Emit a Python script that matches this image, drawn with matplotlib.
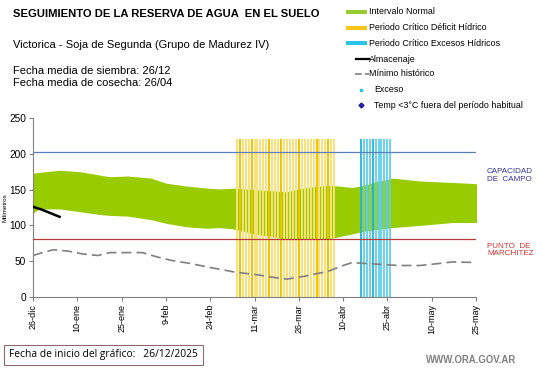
import matplotlib
matplotlib.use("Agg")
import matplotlib.pyplot as plt
from matplotlib.patches import Rectangle

plt.rcParams['font.family'] = ['Liberation Sans', 'DejaVu Sans']

# dias desde 26-dic
tick_days = [0, 15, 30, 45, 60, 75, 90, 105, 120, 135, 150]
tick_labels = ["26-dic", "10-ene", "25-ene", "9-feb", "24-feb", "11-mar",
               "26-mar", "10-abr", "25-abr", "10-may", "25-may"]

# intervalo normal (banda verde)
band_days = [0, 2, 9, 16, 23, 26, 32, 40, 45, 52, 59, 63, 68, 75, 82, 86, 90,
             95, 101, 108, 111, 116, 122, 131, 142, 151]
band_top = [173, 174, 177, 175, 170, 168, 169, 166, 159, 155, 152, 151, 152,
            150, 148, 147, 151, 154, 156, 153, 155, 161, 166, 162, 160, 158]
band_low = [117, 123, 123, 119, 115, 114, 113, 108, 103, 98, 96, 97, 95, 88,
            84, 80, 80, 81, 82, 88, 91, 94, 97, 100, 104, 104]

# minimo historico
min_days = [0, 4, 7, 12, 17, 22, 26, 32, 37, 42, 47, 53, 59, 68, 76, 82, 86,
            92, 100, 105, 108, 116, 124, 131, 138, 142, 151]
min_vals = [58, 63, 66, 64, 60, 58, 62, 62, 62, 56, 51, 47, 42, 35, 31, 27,
            25, 29, 36, 44, 48, 46, 44, 44, 47, 49, 48]

# almacenaje
alm_days = [0, 3, 6, 9]
alm_vals = [126, 122, 117, 112]

capacidad_campo = 203
punto_marchitez = 81
bar_top = 221

deficit_days = list(range(69, 103))
deficit_dark = [70, 74, 80, 84, 90, 96, 100]
exceso_days = list(range(111, 122))
exceso_dark = [111, 115]

fig = plt.figure(figsize=(5.41, 3.68), dpi=100)
ax = fig.add_axes([33 / 541, 1 - 297 / 368, 443 / 541, 179 / 368])

ax.fill_between(band_days, band_low, band_top, color="#99cc00", lw=0, zorder=1)

for d in deficit_days:
    c = "#f0c400" if d in deficit_dark else "#f8e27a"
    ax.vlines(d, 0, bar_top, color=c, lw=1.4, zorder=2)
for d in exceso_days:
    c = "#1fb5d6" if d in exceso_dark else "#5fd0ea"
    ax.vlines(d, 0, bar_top, color=c, lw=1.3, zorder=2)

ax.axhline(capacidad_campo, color="#5b7fbd", lw=0.9, zorder=3)
ax.axhline(punto_marchitez, color="#b83a3a", lw=0.9, zorder=3)

ax.plot(min_days, min_vals, color="#808080", lw=1.2, dashes=(6, 3), zorder=4)
ax.plot(alm_days, alm_vals, color="black", lw=1.8, zorder=5)

ax.set_xlim(0, 150)
ax.set_ylim(0, 250)
ax.set_xticks(tick_days)
ax.set_xticklabels(tick_labels, rotation=90, fontsize=6.5)
ax.set_yticks([0, 50, 100, 150, 200, 250])
ax.tick_params(axis='y', labelsize=7.3, length=3, color="#808080", pad=2)
ax.tick_params(axis='x', length=3, color="#808080", pad=2)
for s in ["top", "right"]:
    ax.spines[s].set_visible(False)
for s in ["left", "bottom"]:
    ax.spines[s].set_color("#808080")
ax.set_ylabel("Milímetros", fontsize=4.5)
ax.yaxis.set_label_coords(-0.058, 0.5)

ax.text(1.025, 0.68, "CAPACIDAD\nDE  CAMPO", transform=ax.transAxes,
        fontsize=5.8, color="#333399", va="center", linespacing=1.1)
ax.text(1.025, 0.263, "PUNTO  DE\nMARCHITEZ", transform=ax.transAxes,
        fontsize=5.8, color="#cc3333", va="center", linespacing=1.1)

# textos de cabecera
fig.text(13 / 541, 1 - 14 / 368, "SEGUIMIENTO DE LA RESERVA DE AGUA  EN EL SUELO",
         fontsize=8.1, fontweight="bold", va="center")
fig.text(13 / 541, 1 - 45 / 368, "Victorica - Soja de Segunda (Grupo de Madurez IV)",
         fontsize=8.0, va="center")
fig.text(13 / 541, 1 - 71 / 368, "Fecha media de siembra: 26/12",
         fontsize=8.0, va="center")
fig.text(13 / 541, 1 - 83 / 368, "Fecha media de cosecha: 26/04",
         fontsize=8.0, va="center")

# leyenda
lg = fig.add_axes([0, 0, 1, 1], zorder=-1)
lg.set_xlim(0, 541)
lg.set_ylim(368, 0)
lg.axis("off")
legend_rows = [
    ("Intervalo Normal", "patch", "#99cc33", 12),
    ("Periodo Crítico Déficit Hídrico", "patch", "#f5c518", 28),
    ("Periodo Crítico Excesos Hídricos", "patch", "#29c4ea", 43),
    ("Almacenaje", "line", "black", 59),
    ("Mínimo histórico", "dash", "#808080", 74),
    ("Exceso", "square", "#29c4ea", 90),
    ("Temp <3°C fuera del período habitual", "diamond", "#1f1fa0", 105),
]
for label, kind, col, y in legend_rows:
    tx = 369
    if kind == "patch":
        lg.add_patch(Rectangle((346, y - 1.8), 21, 3.6, color=col, lw=0))
    elif kind == "line":
        lg.plot([356, 369], [y, y], color=col, lw=1.6)
    elif kind == "dash":
        lg.plot([355, 369], [y, y], color=col, lw=1.2, dashes=(4, 2))
    elif kind == "square":
        lg.plot([361], [y], marker="s", ms=2, color=col, lw=0)
        tx = 374
    elif kind == "diamond":
        lg.plot([361], [y], marker="D", ms=2.5, color=col, lw=0)
        tx = 374
    lg.text(tx, y, label, fontsize=6.4, va="center", ha="left")

# pie
fig.text(9 / 541, 1 - 355 / 368, "Fecha de inicio del gráfico:   26/12/2025",
         fontsize=7.4, va="center", family=["Open Sans", "DejaVu Sans"],
         bbox=dict(boxstyle="square,pad=0.45", fc="white", ec="#8a6a6a", lw=0.8))
fig.text(516 / 541, 1 - 360 / 368, "WWW.ORA.GOV.AR", fontsize=6.9,
         fontweight="bold", color="#7f7f7f", ha="right", va="center")

fig.savefig("out.png", dpi=100)
